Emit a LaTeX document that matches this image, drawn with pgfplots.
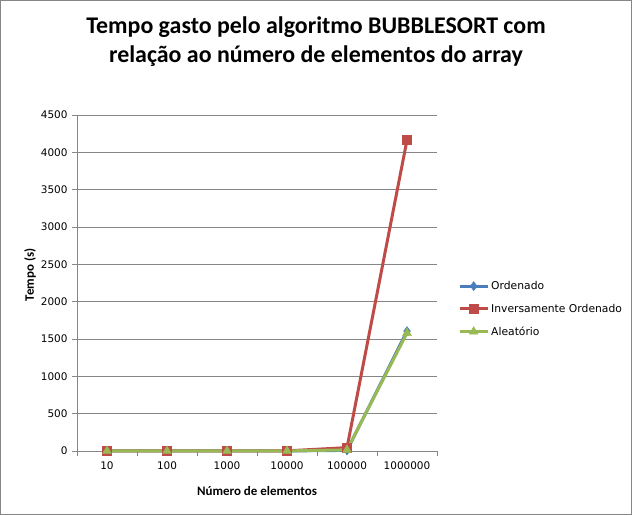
\documentclass[border=0pt]{standalone}
\usepackage{pgfplots}
\pgfplotsset{compat=1.18}
\usepackage{fontspec}
\setmainfont{Carlito}
\newfontfamily\verd{DejaVu Sans}
\definecolor{cblue}{HTML}{4A7EBB}
\definecolor{cred}{HTML}{BE4B48}
\definecolor{cgreen}{HTML}{98B954}
\definecolor{cgrid}{HTML}{868686}
\begin{document}
\begin{tikzpicture}[x=1bp,y=1bp]
\useasboundingbox (0,0) rectangle (632,515);
\draw[cgrid, line width=0.8bp] (0.5,0.5) rectangle (631.5,514.5);
\node[align=center, font=\bfseries\fontsize{24}{29}\selectfont] at (316,473.5)
  {Tempo gasto pelo algoritmo BUBBLESORT com\\relação ao número de elementos do array};
\begin{axis}[
  at={(77bp,64bp)}, anchor=south west,
  scale only axis, width=360bp, height=336bp,
  xmin=-0.5, xmax=5.5, ymin=0, ymax=4500,
  xtick={0,1,2,3,4,5},
  xticklabels={10,100,1000,10000,100000,1000000},
  minor xtick={-0.5,0.5,1.5,2.5,3.5,4.5,5.5},
  ytick={0,500,...,4500},
  axis lines=left,
  axis line style={-, draw=cgrid, line width=0.8bp},
  xtick style={draw=none},
  minor x tick style={draw=cgrid, line width=0.8bp},
  ytick style={draw=cgrid, line width=0.8bp},
  tick align=outside,
  major tick length=5bp, minor tick length=5bp,
  ymajorgrids, major grid style={draw=cgrid, line width=0.8bp},
  /pgf/number format/assume math mode=true,
  tick label style={font=\verd\fontsize{10.5}{12}\selectfont},
  scaled y ticks=false,
  yticklabel style={/pgf/number format/1000 sep={}},
  y tick label style={xshift=-1bp},
  x tick label style={yshift=-2bp},
  xlabel={\bfseries Número de elementos},
  ylabel={\bfseries Tempo (s)},
  label style={font=\bfseries\fontsize{13}{15}\selectfont},
  xlabel style={at={(axis description cs:0.5,-0.119)}, anchor=center},
  ylabel style={at={(axis description cs:-0.1306,0.524)}, anchor=center},
  legend style={at={(1.05,0.4226)}, anchor=west, draw=none, fill=none,
    font=\verd\fontsize{10.8}{12}\selectfont, row sep=9bp,
    /tikz/every even column/.append style={column sep=2bp}},
  legend cell align=left,
  legend image code/.code={\draw[mark repeat=2,mark phase=2] plot coordinates {(0bp,0bp) (14bp,0bp) (28bp,0bp)};},
  clip=false,
]
\addplot[cblue, line width=3bp, mark=diamond*, mark size=4.5bp, mark options={solid, fill=cblue, line width=0.5bp}]
  coordinates {(0,0) (1,0) (2,0) (3,1) (4,8) (5,1605)};
\addlegendentry{Ordenado}
\addplot[cred, line width=3bp, mark=square*, mark size=4.5bp, mark options={solid, fill=cred, line width=0.5bp}]
  coordinates {(0,0) (1,0) (2,0) (3,2) (4,45) (5,4165)};
\addlegendentry{Inversamente Ordenado}
\addplot[cgreen, line width=3bp, mark=triangle*, mark size=5bp, mark options={solid, fill=cgreen, line width=0.5bp}]
  coordinates {(0,0) (1,0) (2,0) (3,1) (4,15) (5,1580)};
\addlegendentry{Aleatório}
\end{axis}
\end{tikzpicture}
\end{document}
